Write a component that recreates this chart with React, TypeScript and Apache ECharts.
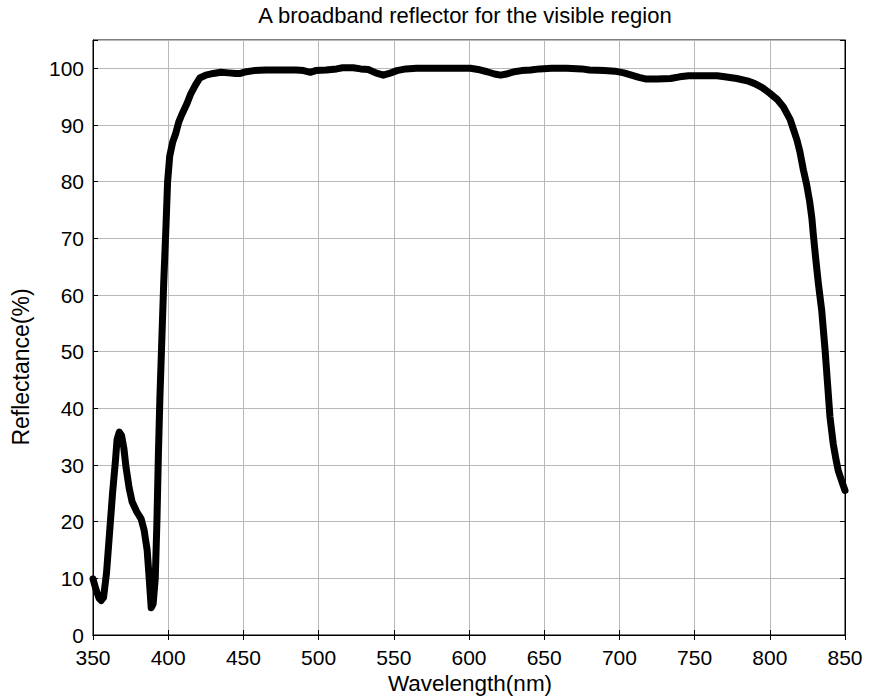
import React, { useEffect, useRef } from "react";
import * as echarts from "echarts";

const titleText = "A broadband reflector for the visible region";
const xName = "Wavelength(nm)";
const yName = "Reflectance(%)";

const wavelength: number[] = [
  350, 352, 354, 355.5, 357, 359, 361, 363, 365, 366, 367.5, 369, 370.5, 372, 374, 376, 379, 382, 384, 386,
  387.5, 388.7, 390, 391.4, 392.5, 393.5, 394.5, 395.5, 397, 398.5, 399.6, 401, 403, 405, 407, 409, 412.5, 415,
  418, 421, 425, 430, 435, 440, 445, 448, 452, 457, 465, 475, 485, 490, 494.5, 498, 505, 512, 516, 523, 528, 533,
  538, 543, 547, 552, 558, 565, 575, 585, 595, 601, 606, 612, 617, 621, 625, 630, 635, 641, 647, 655, 665, 675,
  680, 690, 697, 703, 708, 713, 718, 725, 734, 740, 746, 755, 765, 770, 778, 785, 790, 795, 800, 805, 809, 813.5,
  816, 818, 820, 822.3, 824.5, 826.5, 828, 829, 830.5, 832.3, 834.5, 836.7, 838.5, 840, 842.2, 844, 845.5, 848, 850,
];

const reflectance: number[] = [
  9.9, 8, 6.5, 6.1, 6.6, 11, 18, 25, 31, 34.5, 35.8, 35.2, 33, 29.5, 26, 23.5, 21.8, 20.5, 18.5, 15,
  9.5, 4.8, 5.5, 10, 20, 32, 42, 50, 62, 72, 80, 84.5, 87, 88.5, 90.5, 91.8, 93.8, 95.5,
  97, 98.3, 98.8, 99.1, 99.3, 99.2, 99.1, 99.1, 99.4, 99.6, 99.7, 99.7, 99.7, 99.6, 99.3, 99.6, 99.7, 99.9, 100.1, 100.1, 99.9, 99.8,
  99.2, 98.8, 99.1, 99.6, 99.9, 100, 100, 100, 100, 100, 99.8, 99.4, 99, 98.8, 99, 99.4, 99.6, 99.7, 99.9, 100, 100, 99.9,
  99.7, 99.6, 99.5, 99.2, 98.8, 98.4, 98.1, 98.1, 98.2, 98.5, 98.7, 98.7, 98.7, 98.5, 98.2, 97.8, 97.3, 96.6, 95.6, 94.5, 93.2, 91,
  89, 87.4, 85.3, 82.1, 79.5, 76.5, 73.5, 70.5, 66.5, 62, 57.3, 50.5, 44, 38.5, 33.7, 31, 29, 27, 25.5,
];

const FONT = "'Liberation Sans', Arial, Helvetica, sans-serif";

export default function App() {
  const ref = useRef<HTMLDivElement>(null);

  useEffect(() => {
    if (!ref.current) return;
    const chart = echarts.init(ref.current, undefined, { renderer: "svg" });
    const data = wavelength.map((w, i) => [w, reflectance[i]]);
    const gridColor = "#b8b8b8";
    const tickStyle = { inside: true, length: 5, lineStyle: { color: "#000", width: 1 } };
    chart.setOption({
      animation: false,
      backgroundColor: "#fff",
      textStyle: { fontFamily: FONT },
      grid: {
        left: 93,
        right: 26,
        top: 40,
        bottom: 65,
        show: true,
        borderColor: "#000",
        borderWidth: 1,
        backgroundColor: "transparent",
      },
      xAxis: [
        {
          type: "value",
          min: 350,
          max: 850,
          interval: 50,
          position: "bottom",
          axisLine: { show: true, lineStyle: { color: "#000", width: 1 } },
          axisTick: tickStyle,
          splitLine: { show: true, lineStyle: { color: gridColor, width: 1 } },
          axisLabel: { color: "#000", fontSize: 21, fontFamily: FONT, margin: 12 },
        },
        {
          type: "value",
          min: 350,
          max: 850,
          interval: 50,
          position: "top",
          axisLine: { show: true, lineStyle: { color: "#000", width: 1 } },
          axisTick: tickStyle,
          splitLine: { show: false },
          axisLabel: { show: false },
        },
      ],
      yAxis: [
        {
          type: "value",
          min: 0,
          max: 105,
          interval: 10,
          position: "left",
          axisLine: { show: true, lineStyle: { color: "#000", width: 1 } },
          axisTick: tickStyle,
          splitLine: { show: true, lineStyle: { color: gridColor, width: 1 } },
          axisLabel: {
            color: "#000",
            fontSize: 21,
            fontFamily: FONT,
            margin: 9,
            formatter: (v: number) => (v > 100 ? "" : String(v)),
          },
        },
        {
          type: "value",
          min: 0,
          max: 105,
          interval: 10,
          position: "right",
          axisLine: { show: true, lineStyle: { color: "#000", width: 1 } },
          axisTick: tickStyle,
          splitLine: { show: false },
          axisLabel: { show: false },
        },
      ],
      graphic: [
        {
          type: "text",
          x: 465,
          y: 15,
          style: {
            text: titleText,
            fontSize: 22,
            fontFamily: FONT,
            fill: "#000",
            textAlign: "center",
            textVerticalAlign: "middle",
          },
        },
        {
          type: "text",
          x: 470,
          y: 683,
          style: {
            text: xName,
            fontSize: 22.5,
            fontFamily: FONT,
            fill: "#000",
            textAlign: "center",
            textVerticalAlign: "middle",
          },
        },
        {
          type: "text",
          x: 21,
          y: 367,
          rotation: Math.PI / 2,
          style: {
            text: yName,
            fontSize: 23,
            fontFamily: FONT,
            fill: "#000",
            textAlign: "center",
            textVerticalAlign: "middle",
          },
        },
      ],
      series: [
        {
          type: "line",
          xAxisIndex: 0,
          yAxisIndex: 0,
          data,
          showSymbol: false,
          smooth: false,
          lineStyle: { color: "#000", width: 7, cap: "round", join: "round" },
          clip: true,
        },
      ],
    });
    return () => chart.dispose();
  }, []);

  return (
    <div
      ref={ref}
      style={{ position: "fixed", left: 0, top: 0, width: 871, height: 700, background: "#fff" }}
    />
  );
}
